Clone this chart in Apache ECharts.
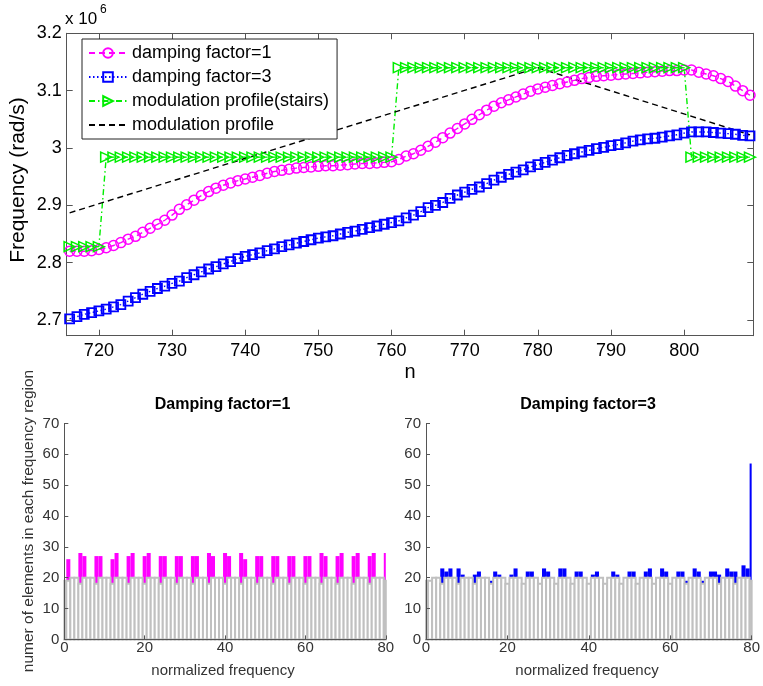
<!DOCTYPE html>
<html>
<head>
<meta charset="utf-8">
<script src="https://cdn.jsdelivr.net/npm/echarts@6/dist/echarts.min.js"></script>
<style>
html,body{margin:0;padding:0;background:#fff;}
#chart{width:763px;height:686px;}
</style>
</head>
<body>
<div id="chart"></div>
<script>
// ---------- top panel data (values in units of 10^6 rad/s) ----------
const nValues = [716,717,718,719,720,721,722,723,724,725,726,727,728,729,730,731,732,733,734,735,736,737,738,739,740,741,742,743,744,745,746,747,748,749,750,751,752,753,754,755,756,757,758,759,760,761,762,763,764,765,766,767,768,769,770,771,772,773,774,775,776,777,778,779,780,781,782,783,784,785,786,787,788,789,790,791,792,793,794,795,796,797,798,799,800,801,802,803,804,805,806,807,808,809];
const damping1 = [2.820,2.820,2.820,2.821,2.823,2.826,2.830,2.835,2.841,2.846,
  2.853,2.860,2.867,2.874,2.883,2.893,2.901,2.909,2.917,2.924,
  2.930,2.935,2.939,2.943,2.946,2.949,2.952,2.956,2.959,2.961,
  2.963,2.965,2.966,2.967,2.968,2.969,2.969,2.970,2.971,2.972,
  2.973,2.973,2.974,2.975,2.976,2.980,2.986,2.990,2.996,3.003,
  3.010,3.018,3.026,3.034,3.042,3.050,3.058,3.066,3.073,3.079,
  3.084,3.089,3.094,3.099,3.103,3.106,3.109,3.112,3.115,3.118,
  3.121,3.123,3.125,3.126,3.127,3.128,3.129,3.130,3.131,3.132,
  3.133,3.134,3.135,3.135,3.136,3.136,3.132,3.129,3.126,3.121,
  3.116,3.108,3.100,3.092];
const damping3 = [2.702,2.706,2.710,2.713,2.716,2.719,2.723,2.727,2.733,2.739,
  2.745,2.750,2.755,2.759,2.764,2.768,2.774,2.779,2.784,2.789,
  2.793,2.798,2.802,2.807,2.811,2.814,2.817,2.821,2.824,2.828,
  2.831,2.834,2.837,2.840,2.843,2.845,2.847,2.850,2.853,2.855,
  2.858,2.861,2.864,2.867,2.870,2.873,2.878,2.883,2.889,2.896,
  2.900,2.905,2.912,2.918,2.923,2.928,2.932,2.938,2.944,2.949,
  2.954,2.958,2.962,2.967,2.971,2.975,2.979,2.983,2.987,2.990,
  2.993,2.996,2.999,3.001,3.004,3.006,3.009,3.012,3.014,3.016,
  3.017,3.019,3.021,3.023,3.026,3.028,3.028,3.028,3.027,3.026,
  3.025,3.024,3.022,3.021];
const stairs = [2.828,2.828,2.828,2.828,2.828,
  2.984,2.984,2.984,2.984,2.984,2.984,2.984,2.984,2.984,2.984,
  2.984,2.984,2.984,2.984,2.984,2.984,2.984,2.984,2.984,2.984,
  2.984,2.984,2.984,2.984,2.984,2.984,2.984,2.984,2.984,2.984,
  2.984,2.984,2.984,2.984,2.984,2.984,2.984,2.984,2.984,2.984,
  3.140,3.140,3.140,3.140,3.140,3.140,3.140,3.140,3.140,3.140,
  3.140,3.140,3.140,3.140,3.140,3.140,3.140,3.140,3.140,3.140,
  3.140,3.140,3.140,3.140,3.140,3.140,3.140,3.140,3.140,3.140,
  3.140,3.140,3.140,3.140,3.140,3.140,3.140,3.140,3.140,3.140,
  2.984,2.984,2.984,2.984,2.984,2.984,2.984,2.984,2.984];
const profileN = [716, 780, 809];
const profileF = [2.887, 3.140, 3.023];
const topXTicks = [720, 730, 740, 750, 760, 770, 780, 790, 800];
const topYTicks = [2.7, 2.8, 2.9, 3, 3.1, 3.2];
const seriesNames = ['damping factor=1', 'damping factor=3', 'modulation profile(stairs)', 'modulation profile'];

// ---------- bottom panels: histograms, bins 0..80 ----------
const referenceCounts = [19,19,20,20,18,20,20,20,18,20,
  20,20,18,20,20,20,18,20,20,20,
  18,20,20,20,18,20,20,20,18,20,
  20,20,18,20,20,20,18,20,20,20,
  18,20,20,20,18,20,20,20,18,20,
  20,20,18,20,20,20,18,20,20,20,
  18,20,20,20,18,20,20,20,18,20,
  20,20,18,20,20,20,18,20,20,20,
  19];
const counts1 = [16,26,16,16,28,27,16,16,27,27,
  16,16,26,28,16,16,27,28,16,16,
  27,28,16,16,27,27,16,16,27,27,
  16,16,27,27,16,16,28,27,16,16,
  28,27,16,16,28,26,16,16,27,27,
  16,16,27,27,16,16,27,27,16,16,
  27,27,16,16,28,27,16,16,27,28,
  16,16,27,28,16,16,27,28,16,16,
  28];
const counts3 = [16,16,16,16,23,22,23,16,23,21,
  16,16,21,22,16,16,19,22,21,16,
  16,21,23,16,16,22,22,16,16,23,
  22,16,16,23,23,16,16,22,22,16,
  16,21,22,16,16,16,22,21,16,16,
  22,22,16,16,22,23,16,16,23,22,
  16,16,22,22,19,16,23,22,19,16,
  22,22,21,16,23,22,22,16,24,23,
  57];
const histTitles = ['Damping factor=1', 'Damping factor=3'];

const FONT = '"Liberation Sans", Arial, Helvetica, sans-serif';
const chart = echarts.init(document.getElementById('chart'), null, {renderer: 'canvas'});

function pairs(xs, ys) { return xs.map((x, i) => [x, ys[i]]); }
function binPairs(c) { return c.map((v, i) => [i, v]); }

function histRender(fill, stroke, lw) {
  return function (params, api) {
    const k = api.value(0), v = api.value(1);
    const p0 = api.coord([k - 0.5, v]);
    const p1 = api.coord([k + 0.5, 0]);
    const cs = params.coordSys;
    const x0 = Math.max(p0[0], cs.x);
    const x1 = Math.min(p1[0], cs.x + cs.width);
    if (x1 <= x0) return null;
    return {
      type: 'rect',
      shape: {x: x0, y: p0[1], width: x1 - x0, height: p1[1] - p0[1]},
      style: {fill: fill, stroke: stroke, lineWidth: lw}
    };
  };
}

const axisCol = '#555';
const topXBase = {
  gridIndex: 0, type: 'value', min: 715.6, max: 809.45, splitNumber: 9,
  axisLine: {onZero: false, lineStyle: {color: axisCol, width: 1}},
  axisTick: {inside: true, length: 6, lineStyle: {color: axisCol}},
  splitLine: {show: false}
};
const topYBase = {
  gridIndex: 0, type: 'value', min: 2.6727, max: 3.2, splitNumber: 5,
  axisLine: {show: true, onZero: false, lineStyle: {color: axisCol, width: 1}},
  axisTick: {show: true, inside: true, length: 6, lineStyle: {color: axisCol}},
  splitLine: {show: false}
};
function tickFilter(list) {
  return function (v) {
    for (const t of list) if (Math.abs(v - t) < 1e-6) return String(t);
    return '';
  };
}

function bottomX(gi) {
  return {
    gridIndex: gi, type: 'value', min: 0, max: 80, interval: 20, z: 10,
    axisLine: {onZero: false, lineStyle: {color: axisCol}},
    axisTick: {inside: true, length: 4, lineStyle: {color: axisCol}},
    axisLabel: {fontSize: 15, color: '#333', fontFamily: FONT, margin: 1},
    splitLine: {show: false}
  };
}
function bottomY(gi) {
  return {
    gridIndex: gi, type: 'value', min: 0, max: 70, interval: 10, z: 10,
    axisLine: {show: true, onZero: false, lineStyle: {color: axisCol}},
    axisTick: {show: true, inside: true, length: 4, lineStyle: {color: axisCol}},
    axisLabel: {fontSize: 15, color: '#333', fontFamily: FONT, margin: 5},
    splitLine: {show: false}
  };
}

const option = {
  animation: false,
  backgroundColor: '#fff',
  grid: [
    {left: 66.7, top: 33.3, width: 686.6, height: 302.4},
    {left: 64.3, top: 423.4, width: 321.5, height: 216},
    {left: 426, top: 423.4, width: 326.7, height: 216}
  ],
  xAxis: [
    Object.assign({}, topXBase, {position: 'bottom',
      axisLabel: {fontSize: 18, color: '#000', fontFamily: FONT, margin: 6, formatter: tickFilter(topXTicks), showMinLabel: false, showMaxLabel: false}}),
    bottomX(1),
    bottomX(2),
    Object.assign({}, topXBase, {position: 'top', axisLabel: {show: false}})
  ],
  yAxis: [
    Object.assign({}, topYBase, {position: 'left',
      axisLabel: {fontSize: 18, color: '#000', fontFamily: FONT, margin: 5, formatter: tickFilter(topYTicks), showMinLabel: false}}),
    bottomY(1),
    bottomY(2),
    Object.assign({}, topYBase, {position: 'right', axisLabel: {show: false}})
  ],
  legend: {
    show: true, orient: 'vertical', left: 82, top: 39,
    data: [
      {name: seriesNames[0]},
      {name: seriesNames[1]},
      {name: seriesNames[2]},
      {name: seriesNames[3], itemStyle: {opacity: 0}}
    ],
    backgroundColor: '#fff', borderColor: '#222', borderWidth: 1,
    padding: [5, 8, 5, 6], itemGap: 6, itemWidth: 38, itemHeight: 12,
    textStyle: {fontSize: 18, color: '#000', fontFamily: FONT},
    selectedMode: false
  },
  series: [
    {
      name: seriesNames[0], type: 'line', xAxisIndex: 0, yAxisIndex: 0,
      data: pairs(nValues, damping1), showAllSymbol: true,
      symbol: 'circle', symbolSize: 10,
      itemStyle: {color: 'rgba(255,255,255,0)', borderColor: '#ff00ff', borderWidth: 1.5},
      lineStyle: {color: '#ff00ff', width: 1.4, type: [6, 4]}
    },
    {
      name: seriesNames[1], type: 'line', xAxisIndex: 0, yAxisIndex: 0,
      data: pairs(nValues, damping3), showAllSymbol: true,
      symbol: 'rect', symbolSize: 9,
      itemStyle: {color: 'rgba(255,255,255,0)', borderColor: '#0000ff', borderWidth: 1.8},
      lineStyle: {color: '#0000ff', width: 1.4, type: [1.5, 2.5]}
    },
    {
      name: seriesNames[2], type: 'line', xAxisIndex: 0, yAxisIndex: 0,
      data: pairs(nValues, stairs), showAllSymbol: true,
      symbol: 'triangle', symbolSize: [10, 11], symbolRotate: -90,
      itemStyle: {color: 'rgba(255,255,255,0)', borderColor: '#00ee00', borderWidth: 1.5},
      lineStyle: {color: '#00ee00', width: 1.4, type: [6, 3, 1.5, 3]}
    },
    {
      name: seriesNames[3], type: 'line', xAxisIndex: 0, yAxisIndex: 0,
      data: pairs(profileN, profileF), symbol: 'none',
      itemStyle: {color: '#000'},
      lineStyle: {color: '#000', width: 1.4, type: [6, 4]}
    },
    {
      type: 'custom', xAxisIndex: 1, yAxisIndex: 1, data: binPairs(counts1),
      renderItem: histRender('#ff00ff', null, 0), encode: {x: 0, y: 1}, silent: true
    },
    {
      type: 'custom', xAxisIndex: 1, yAxisIndex: 1, data: binPairs(referenceCounts),
      renderItem: histRender('#ffffff', '#c0c0c0', 2), encode: {x: 0, y: 1}, silent: true
    },
    {
      type: 'custom', xAxisIndex: 2, yAxisIndex: 2, data: binPairs(counts3),
      renderItem: histRender('#0000ff', null, 0), encode: {x: 0, y: 1}, silent: true
    },
    {
      type: 'custom', xAxisIndex: 2, yAxisIndex: 2, data: binPairs(referenceCounts),
      renderItem: histRender('#ffffff', '#c0c0c0', 2), encode: {x: 0, y: 1}, silent: true
    }
  ],
  graphic: [
    {type: 'text', style: {x: 65, y: 28, text: 'x 10', font: '17px ' + FONT, fill: '#000', verticalAlign: 'bottom'}},
    {type: 'text', style: {x: 100, y: 16, text: '6', font: '12px ' + FONT, fill: '#000', verticalAlign: 'bottom'}},
    {type: 'text', x: 18.5, y: 180, rotation: Math.PI / 2,
      style: {x: 0, y: 0, text: 'Frequency (rad/s)', font: '21px ' + FONT, fill: '#000', align: 'center', verticalAlign: 'middle'}},
    {type: 'text', style: {x: 410, y: 372, text: 'n', font: '20px ' + FONT, fill: '#000', align: 'center', verticalAlign: 'middle'}},
    {type: 'text', style: {x: 222.5, y: 405, text: histTitles[0], font: 'bold 16px ' + FONT, fill: '#000', align: 'center', verticalAlign: 'middle'}},
    {type: 'text', style: {x: 588, y: 405, text: histTitles[1], font: 'bold 16px ' + FONT, fill: '#000', align: 'center', verticalAlign: 'middle'}},
    {type: 'text', style: {x: 223, y: 671, text: 'normalized frequency', font: '15px ' + FONT, fill: '#333', align: 'center', verticalAlign: 'middle'}},
    {type: 'text', style: {x: 587, y: 671, text: 'normalized frequency', font: '15px ' + FONT, fill: '#333', align: 'center', verticalAlign: 'middle'}},
    {type: 'text', x: 29, y: 521, rotation: Math.PI / 2,
      style: {x: 0, y: 0, text: 'numer of elements in each frequency region', font: '15.5px ' + FONT, fill: '#333', align: 'center', verticalAlign: 'middle'}}
  ]
};
chart.setOption(option);
</script>
</body>
</html>
